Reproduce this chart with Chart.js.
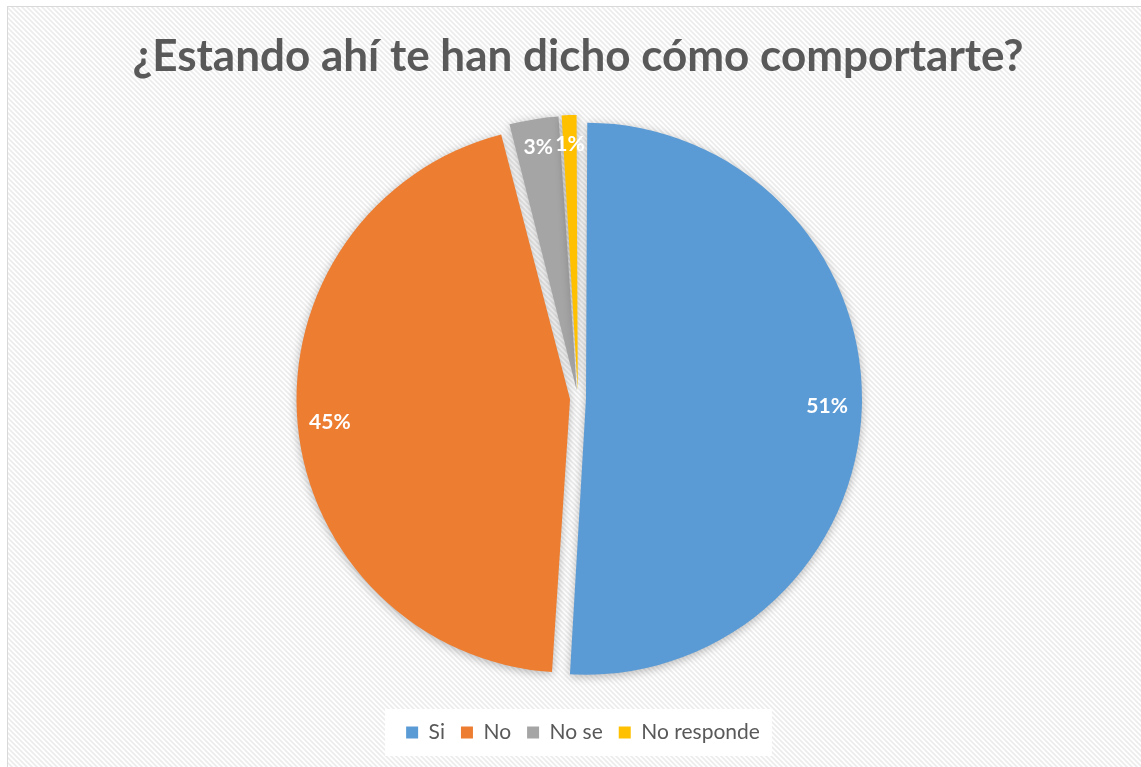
<!DOCTYPE html>
<html>
<head>
<meta charset="utf-8">
<script src="https://cdn.jsdelivr.net/npm/chart.js@4.4.1/dist/chart.umd.min.js"></script>
<style>
  html, body { margin: 0; padding: 0; background: #ffffff; }
  #wrap { width: 1141px; height: 767px; position: relative; }
</style>
</head>
<body>
<div id="wrap"><canvas id="chart" width="1141" height="767"></canvas></div>
<script>
// --- DATA ---
const categories = ['Si', 'No', 'No se', 'No responde'];
const percentValues = [51, 45, 3, 1];
const sliceColors = ['#5B9BD5', '#ED7D31', '#A5A5A5', '#FFC000'];
const chartTitle = '¿Estando ahí te han dicho cómo comportarte?';

const FONT = 'Lato, "Open Sans", sans-serif';

// diagonal hatch used as the chart background
function makeHatch() {
    const c = document.createElement('canvas');
    c.width = 5; c.height = 5;
    const g = c.getContext('2d');
    g.fillStyle = '#ffffff';
    g.fillRect(0, 0, 5, 5);
    g.strokeStyle = '#ececec';
    g.lineWidth = 1.6;
    g.beginPath();
    g.moveTo(-1, -1); g.lineTo(6, 6);
    g.moveTo(-1, 4); g.lineTo(1, 6);
    g.moveTo(4, -1); g.lineTo(6, 1);
    g.stroke();
    return c;
}

// nudge the legend row a little to the right (chart.js centres it including trailing padding)
const legendNudge = {
    id: 'legendNudge',
    afterLayout(chart) {
        const lg = chart.legend;
        lg.left += 5;
        lg.right += 5;
        lg.legendHitBoxes.forEach(b => { b.left += 5; });
    }
};

const backgroundPlugin = {
    id: 'hatchBackground',
    beforeDraw(chart) {
        const ctx = chart.ctx;
        ctx.save();
        ctx.fillStyle = '#ffffff';
        ctx.fillRect(0, 0, chart.width, chart.height);
        ctx.fillStyle = ctx.createPattern(makeHatch(), 'repeat');
        ctx.fillRect(7, 6, chart.width - 7, chart.height - 6);
        ctx.strokeStyle = '#d9d9d9';
        ctx.lineWidth = 1;
        ctx.strokeRect(7.5, 6.5, chart.width - 7, chart.height - 6);

        // white box behind legend entries
        const boxes = chart.legend && chart.legend.legendHitBoxes;
        if (boxes && boxes.length) {
            const left = Math.min(...boxes.map(b => b.left));
            const right = Math.max(...boxes.map(b => b.left + b.width));
            const top = Math.min(...boxes.map(b => b.top));
            const bottom = Math.max(...boxes.map(b => b.top + b.height));
            ctx.fillStyle = '#ffffff';
            ctx.fillRect(left - 21, top - 13, right - left + 33, bottom - top + 26);
        }
        ctx.restore();
    }
};

const shadowPlugin = {
    id: 'sliceShadow',
    beforeDatasetsDraw(chart) {
        const ctx = chart.ctx;
        ctx.save();
        ctx.shadowColor = 'rgba(0, 0, 0, 0.28)';
        ctx.shadowBlur = 10;
        ctx.shadowOffsetX = 0;
        ctx.shadowOffsetY = 2;
    },
    afterDatasetsDraw(chart) {
        chart.ctx.restore();
    }
};

const labelPlugin = {
    id: 'sliceLabels',
    afterDatasetsDraw(chart) {
        const ctx = chart.ctx;
        const meta = chart.getDatasetMeta(0);
        const shift = chart.data.datasets[0].offset / 4;
        ctx.save();
        ctx.fillStyle = '#ffffff';
        ctx.font = 'bold 21px ' + FONT;
        ctx.textAlign = 'center';
        ctx.textBaseline = 'middle';
        meta.data.forEach((arc, i) => {
            const p = arc.getProps(['x', 'y', 'startAngle', 'endAngle', 'outerRadius'], true);
            const mid = (p.startAngle + p.endAngle) / 2;
            const r = p.outerRadius * (percentValues[i] < 10 ? 0.92 : 0.9) + shift;
            const x = p.x + Math.cos(mid) * r;
            const y = p.y + Math.sin(mid) * r;
            ctx.fillText(percentValues[i] + '%', x, y);
        });
        ctx.restore();
    }
};

new Chart(document.getElementById('chart'), {
    type: 'pie',
    data: {
        labels: categories,
        datasets: [{
            data: percentValues,
            backgroundColor: sliceColors,
            borderWidth: 0,
            offset: 32,
            radius: 268
        }]
    },
    options: {
        responsive: false,
        animation: false,
        events: [],
        layout: { padding: { left: 22, right: 7, top: 0, bottom: 14 } },
        plugins: {
            title: {
                display: true,
                text: chartTitle,
                color: '#595959',
                font: { family: FONT, size: 44, weight: 'bold', lineHeight: 1.2 },
                padding: { top: 30, bottom: 8 }
            },
            legend: {
                position: 'bottom',
                labels: {
                    color: '#595959',
                    font: { family: FONT, size: 21 },
                    boxWidth: 12,
                    boxHeight: 12,
                    padding: 16
                }
            },
            tooltip: { enabled: false }
        }
    },
    plugins: [legendNudge, backgroundPlugin, shadowPlugin, labelPlugin]
});
</script>
</body>
</html>
